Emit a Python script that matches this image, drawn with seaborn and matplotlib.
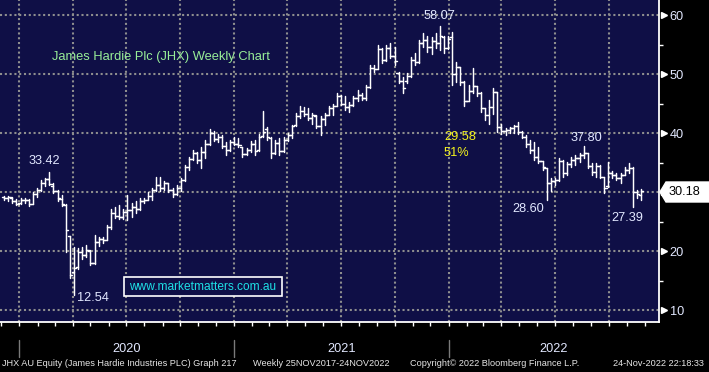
import numpy as np
import pandas as pd
import matplotlib
matplotlib.use("Agg")
import matplotlib.pyplot as plt
import matplotlib.dates as mdates
import matplotlib.transforms as mtransforms
from matplotlib import font_manager
from matplotlib.patches import Polygon, Rectangle
from matplotlib.lines import Line2D
import seaborn as sns

# ---------------- data (weekly OHLC, JHX AU) ----------------
start_date = "2019-12-06"
opens = [29.1, 28.9, 29.0, 28.4, 28.1, 28.7, 28.6, 28.0, 29.7, 30.4,
         31.6, 32.2, 31.0, 30.1, 28.8, 27.8, 22.5, 16.5, 17.3, 19.8,
         19.3, 20.0, 18.0, 21.6, 22.0, 21.9, 24.1, 26.4, 26.0, 25.8,
         26.6, 27.0, 27.4, 27.2, 28.4, 28.6, 29.4, 30.3, 31.2, 30.6,
         31.5, 30.4, 29.6, 30.6, 32.0, 34.2, 35.6, 36.6, 35.4, 36.8,
         38.2, 40.0, 39.0, 39.4, 37.8, 37.2, 38.4, 38.2, 37.6, 36.4,
         37.1, 38.2, 37.2, 39.5, 40.6, 39.2, 36.6, 38.3, 37.0, 38.8,
         39.7, 41.4, 42.8, 43.8, 43.2, 42.5, 42.8, 41.2, 42.4, 43.1,
         44.3, 44.6, 46.3, 45.0, 44.4, 44.8, 45.9, 46.5, 46.0, 47.8,
         51.0, 50.9, 54.2, 52.4, 54.4, 53.0, 50.2, 48.8, 48.8, 49.6,
         52.4, 52.0, 55.2, 55.8, 54.6, 55.6, 55.2, 56.2, 54.4, 56.2,
         50.0, 51.2, 48.6, 45.5, 47.2, 47.9, 46.8, 44.2, 43.0, 44.4,
         46.9, 41.0, 40.3, 40.5, 40.8, 41.2, 40.2, 39.4, 38.2, 37.2,
         36.0, 35.2, 34.0, 31.6, 31.8, 32.0, 35.2, 33.2, 34.8, 35.4,
         35.8, 36.3, 36.6, 34.4, 33.4, 34.4, 32.6, 31.0, 33.2, 32.9,
         32.4, 32.8, 33.8, 34.0, 30.0, 29.5]
highs = [29.4, 29.3, 29.2, 28.8, 28.9, 29.0, 28.8, 30.0, 30.7, 32.0,
         32.4, 33.42, 31.5, 30.3, 29.5, 28.0, 22.6, 20.7, 20.5, 20.7,
         21.0, 20.2, 22.7, 22.4, 22.3, 24.4, 27.2, 27.4, 27.8, 27.2,
         29.5, 28.1, 28.4, 28.9, 28.9, 30.0, 30.6, 32.6, 32.6, 31.8,
         31.6, 30.6, 31.2, 32.3, 34.6, 36.0, 37.1, 36.8, 37.7, 38.8,
         40.6, 40.4, 39.8, 39.6, 38.4, 38.8, 39.4, 39.1, 37.7, 37.4,
         38.6, 38.8, 39.8, 43.7, 41.1, 39.4, 38.8, 39.1, 39.3, 40.0,
         41.4, 43.4, 44.5, 44.4, 44.2, 43.4, 43.0, 42.8, 43.4, 44.5,
         45.0, 46.7, 46.4, 46.2, 45.3, 46.2, 47.3, 46.8, 48.1, 51.5,
         51.5, 54.9, 54.4, 54.9, 55.2, 54.6, 50.4, 49.5, 50.1, 52.9,
         53.5, 55.8, 57.0, 56.4, 56.2, 56.9, 58.07, 56.5, 56.5, 57.1,
         52.1, 51.2, 48.8, 48.1, 51.0, 48.0, 46.9, 44.2, 45.6, 47.6,
         47.0, 41.6, 40.8, 41.1, 41.4, 41.9, 40.4, 39.6, 38.8, 38.5,
         37.7, 35.3, 34.0, 32.3, 32.3, 35.7, 35.4, 35.1, 36.0, 36.3,
         36.6, 37.8, 36.6, 34.9, 34.9, 34.5, 32.6, 35.1, 33.5, 33.2,
         33.2, 34.3, 34.9, 34.2, 30.3, 30.5]
lows = [28.6, 28.5, 28.2, 27.8, 27.9, 28.2, 27.6, 27.9, 29.2, 30.2,
        31.0, 31.2, 29.8, 28.4, 27.6, 19.8, 15.5, 12.54, 16.9, 18.6,
        18.9, 17.6, 17.8, 20.8, 21.4, 21.8, 23.8, 25.6, 25.5, 25.4,
        25.3, 25.8, 26.4, 27.0, 28.2, 28.6, 28.6, 30.1, 30.2, 30.3,
        30.0, 29.1, 29.5, 30.1, 31.8, 33.7, 35.4, 35.0, 34.0, 35.7,
        38.0, 38.7, 38.5, 37.4, 36.3, 37.0, 37.9, 37.6, 36.0, 36.3,
        36.8, 36.3, 37.0, 39.3, 38.8, 35.7, 36.4, 36.3, 36.8, 38.6,
        39.1, 41.2, 42.6, 42.8, 42.2, 41.6, 40.9, 39.7, 41.4, 43.0,
        43.1, 44.5, 44.7, 43.9, 43.6, 44.6, 45.4, 45.6, 45.6, 47.6,
        50.4, 50.8, 51.8, 52.2, 52.7, 51.6, 48.4, 46.8, 48.5, 49.5,
        51.6, 51.8, 54.6, 53.8, 53.4, 54.4, 54.0, 53.6, 54.3, 48.1,
        48.7, 48.1, 44.5, 45.4, 46.8, 46.2, 43.6, 42.2, 41.6, 43.3,
        40.2, 39.9, 39.7, 40.0, 40.0, 39.8, 39.1, 37.7, 36.6, 35.4,
        35.0, 33.7, 28.6, 30.1, 31.2, 31.9, 32.6, 32.9, 34.3, 34.6,
        35.1, 35.7, 34.0, 32.9, 32.6, 32.3, 29.8, 30.9, 32.3, 32.0,
        31.5, 32.8, 33.2, 27.39, 29.0, 28.6]
closes = [28.9, 29.1, 28.4, 28.0, 28.7, 28.6, 28.0, 29.7, 30.4, 31.5,
          32.2, 31.4, 30.1, 29.0, 28.0, 23.5, 16.0, 17.2, 19.8, 19.3,
          20.2, 18.0, 21.6, 22.0, 21.8, 24.0, 26.4, 26.0, 25.8, 26.6,
          27.0, 27.4, 27.2, 28.4, 28.6, 29.4, 30.3, 31.2, 30.6, 31.5,
          30.4, 29.6, 30.6, 32.0, 34.2, 35.6, 36.6, 35.4, 36.8, 38.2,
          40.0, 39.0, 39.4, 37.8, 37.2, 38.4, 38.2, 38.0, 36.4, 37.1,
          38.2, 37.0, 39.4, 40.2, 39.4, 36.6, 38.3, 37.0, 38.8, 39.7,
          41.2, 42.8, 43.8, 43.2, 42.5, 43.0, 41.2, 42.4, 43.1, 44.3,
          44.6, 46.3, 45.0, 44.4, 44.8, 45.9, 46.5, 46.0, 47.8, 51.0,
          50.9, 54.2, 52.4, 54.4, 53.0, 52.2, 48.8, 47.6, 49.6, 52.4,
          52.0, 55.2, 55.8, 54.6, 55.6, 55.2, 56.4, 54.4, 56.0, 50.0,
          51.2, 48.6, 45.5, 47.2, 47.9, 46.8, 44.2, 43.0, 44.4, 46.9,
          41.0, 40.3, 40.5, 40.8, 41.2, 40.2, 39.4, 38.2, 37.2, 36.0,
          35.2, 34.2, 31.6, 31.8, 32.0, 35.2, 33.2, 34.8, 35.4, 35.8,
          36.3, 36.6, 34.4, 33.4, 34.4, 32.6, 30.6, 33.2, 32.9, 32.4,
          32.8, 33.8, 34.0, 30.0, 29.6, 30.18]

y_ticks = [10, 20, 30, 40, 50, 60]
y_tick_labels = ["10", "20", "", "40", "50", "60"]  # "30" is hidden by last-price box
y_minor = [15, 25, 35, 45, 55]
year_labels = ["2020", "2021", "2022"]
year_starts = ["2020-01-01", "2021-01-01", "2022-01-01", "2023-01-01"]

# annotated values: (label, bar index, price, dx px, dy px)
ann_labels = ["58.07", "33.42", "12.54", "37.80", "28.60", "27.39"]
ann_index = [106, 11, 17, 141, 132, 153]
ann_price = [58.07, 33.42, 12.54, 37.80, 28.60, 27.39]
ann_dx = [0, -5, 19, 3, -18, -6]
ann_dy = [10, 11, -3, 8, -9, -11]

title_text = "James Hardie Plc (JHX) Weekly Chart"
decline_text = ["29.58", "51%"]
last_price = "30.18"
watermark = "www.marketmatters.com.au"
footer = ["JHX AU Equity (James Hardie Industries PLC) Graph 217",
          "Weekly 25NOV2017-24NOV2022",
          "Copyright\u00a9 2022 Bloomberg Finance L.P.",
          "24-Nov-2022 22:18:33"]

# ---------------- style ----------------
BG = "#0f0f46"
GRID = "#8e8e8e"
LBL = "#e2e8ff"

sns.set_style("dark")
plt.rcParams["font.family"] = ["Liberation Sans", "DejaVu Sans"]

names = {f.name for f in font_manager.fontManager.ttflist}
narrow = "Liberation Sans Narrow" if "Liberation Sans Narrow" in names else None

W, H = 709, 372
fig = plt.figure(figsize=(W / 100, H / 100), dpi=100, facecolor="black")
ax = fig.add_axes([0, 50 / H, 659 / W, 322 / H])
ax.set_facecolor(BG)

def fx(x):
    return x / W

def fy(y):
    return 1 - y / H

dates = pd.date_range(start_date, periods=len(closes), freq="W-FRI")
xn = mdates.date2num(dates)
n = len(closes)
d = 4.0  # open / close tick length (days)

seg_x = np.concatenate([np.repeat(xn, 2),
                        np.column_stack([xn - d, xn]).ravel(),
                        np.column_stack([xn, xn + d]).ravel()])
seg_y = np.concatenate([np.column_stack([lows, highs]).ravel(),
                        np.repeat(opens, 2),
                        np.repeat(closes, 2)])
seg_id = np.concatenate([np.repeat(np.arange(n), 2),
                         np.repeat(np.arange(n) + n, 2),
                         np.repeat(np.arange(n) + 2 * n, 2)])
df = pd.DataFrame({"x": seg_x, "price": seg_y, "seg": seg_id})

sns.lineplot(data=df, x="x", y="price", units="seg", estimator=None,
             sort=False, color="white", linewidth=1.05, ax=ax, legend=False)

# axis limits (px mapping: x = 4.1 + 4.11*i, y: 60 at 15px, 5.9 px/unit)
ax.set_xlim(xn[0] - 6.98, xn[0] + 1115.4)
ax.set_ylim(60 - 307 / 5.9, 60 + 15 / 5.9)
ax.set_xlabel("")
ax.set_ylabel("")

# x ticks: quarters (grid) + months
quarters = pd.date_range("2020-01-01", "2022-12-31", freq="QS")
months = pd.date_range("2019-12-01", "2022-12-31", freq="MS")
ax.set_xticks(mdates.date2num(quarters))
ax.set_xticks(mdates.date2num(months), minor=True)
ax.tick_params(axis="x", which="both", bottom=True, top=False, length=3,
               width=1, color="white", direction="out", labelbottom=False)

# y ticks on right
ax.yaxis.tick_right()
ax.set_yticks(y_ticks)
ax.set_yticklabels(y_tick_labels)
ax.set_yticks(y_minor, minor=True)
ax.tick_params(axis="y", which="major", right=True, left=False, length=0,
               pad=7.6, labelcolor=LBL, labelsize=9.2, labelright=True,
               labelleft=False)
ax.tick_params(axis="y", which="minor", right=True, left=False, length=3,
               width=1, color="white", direction="out")

ax.grid(True, which="major", axis="both", color=GRID,
        linestyle=(0, (1.0, 1.3)), linewidth=1.5)
ax.grid(False, which="minor")

for s in ["left", "top"]:
    ax.spines[s].set_visible(False)
for s in ["right", "bottom"]:
    ax.spines[s].set_visible(True)
    ax.spines[s].set_color("white")
    ax.spines[s].set_linewidth(1.3)

# triangle markers at major y ticks
trans = mtransforms.blended_transform_factory(ax.transAxes, ax.transData)
ax.plot(np.full(len(y_ticks), 1 + 4.5 / 659), y_ticks, transform=trans,
        marker=">", ms=5, ls="none", color="white", clip_on=False)

# price annotations
for lab, i, p, dx, dy in zip(ann_labels, ann_index, ann_price, ann_dx, ann_dy):
    ax.annotate(lab, xy=(xn[i], p), xytext=(dx, dy), textcoords="offset pixels",
                ha="center", va="center", color=LBL, fontsize=9.2)

# title and yellow decline text
fig.text(fx(52), fy(57), title_text, color="#98ee98", fontsize=9.25,
         ha="left", va="center")
fig.text(fx(444), fy(137.5), decline_text[0], color="#f4f41c", fontsize=9.2,
         ha="left", va="center")
fig.text(fx(444), fy(153.5), decline_text[1], color="#f4f41c", fontsize=9.2,
         ha="left", va="center")

# watermark box
fig.patches.append(Rectangle((fx(124), fy(296)), (282 - 124) / W, 19 / H,
                             transform=fig.transFigure, facecolor=BG,
                             edgecolor="white", linewidth=1.2))
fig.text(fx(203), fy(286.5), watermark, color="#1ee0e6", fontsize=8.6,
         ha="center", va="center")

# last price box
poly = Polygon([(fx(660), fy(192)), (fx(666), fy(182)), (fx(709), fy(182)),
                (fx(709), fy(202)), (fx(666), fy(202))], closed=True,
               transform=fig.transFigure, facecolor="white", edgecolor="white",
               zorder=5)
fig.add_artist(poly)
fig.text(fx(684.5), fy(192), last_price, color="black", fontsize=9.2,
         ha="center", va="center", zorder=6)

# year labels and separators
ys = [mdates.date2num(pd.Timestamp(s)) for s in year_starts]
x0, x1 = ax.get_xlim()
def data_to_px(v):
    return (v - x0) / (x1 - x0) * 659
for k, lab in enumerate(year_labels):
    a = data_to_px(ys[k])
    b = min(data_to_px(ys[k + 1]), 659)
    fig.text(fx((a + b) / 2 if k < 2 else 554), fy(349), lab, color=LBL,
             fontsize=9.2, ha="center", va="center")
    fig.add_artist(Line2D([fx(a), fx(a)], [fy(340), fy(357)],
                          transform=fig.transFigure, color="#7a7a7a", lw=1))

# footer
fkw = dict(color="#e6e6e6", ha="left", va="center")
if narrow:
    fkw["family"] = narrow
    fs = 7.6
else:
    fs = 6.6
fig.text(fx(2), fy(364), footer[0], fontsize=fs, **fkw)
fig.text(fx(253), fy(364), footer[1], fontsize=fs, **fkw)
fig.text(fx(410), fy(364), footer[2], fontsize=fs, **fkw)
fig.text(fx(613), fy(364), footer[3], fontsize=fs, **fkw)

fig.savefig("out.png", dpi=100, facecolor="black")
